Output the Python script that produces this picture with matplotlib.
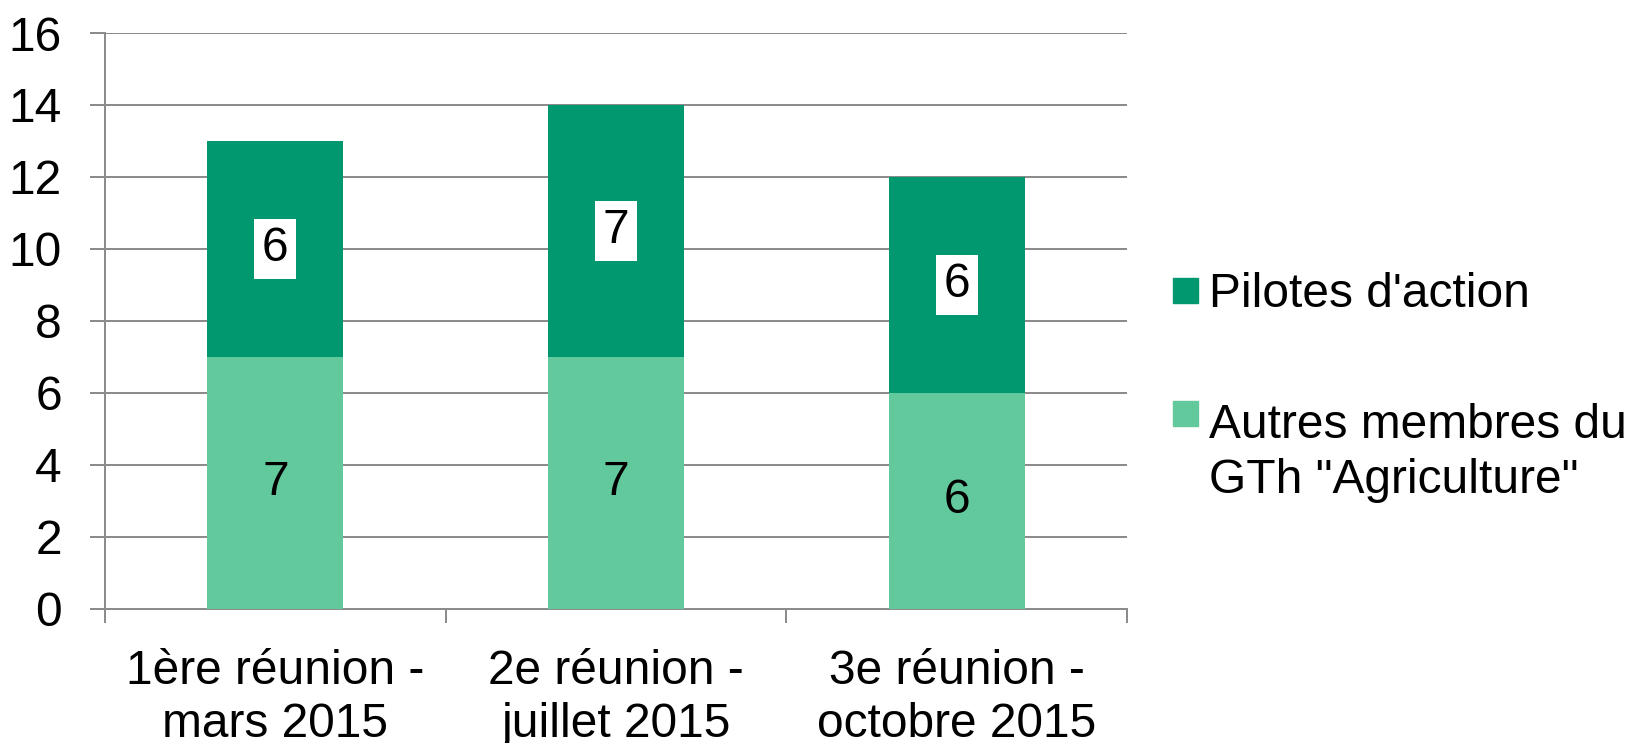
import matplotlib
matplotlib.use("Agg")
import matplotlib.pyplot as plt
from matplotlib.patches import Rectangle
import numpy as np

categories = ["1ère réunion -\nmars 2015", "2e réunion -\njuillet 2015", "3e réunion -\noctobre 2015"]
autres = [7, 7, 6]
pilotes = [6, 7, 6]
series_names = ["Pilotes d'action", "Autres membres du\nGTh \"Agriculture\""]
yticks = [0, 2, 4, 6, 8, 10, 12, 14, 16]

plt.rcParams['font.family'] = ['Liberation Sans', 'DejaVu Sans']
FS = 34.5
dark = '#02986F'
light = '#62C99D'
grid = '#8C8C8C'
PX = 72 / 100  # points per pixel

W, H = 1631, 743
fig = plt.figure(figsize=(W / 100, H / 100), dpi=100)
ax = fig.add_axes([105 / W, 1 - 608.7 / H, (1127 - 105) / W, (608.7 - 33) / H])

x = np.arange(len(categories)) + 0.5
bw = 0.4
ax.bar(x, autres, bw, color=light, zorder=3)
ax.bar(x, pilotes, bw, bottom=autres, color=dark, zorder=3)

for xi, a, p in zip(x, autres, pilotes):
    ax.text(xi, a / 2, str(a), ha='center', va='center', fontsize=FS, zorder=4)
    ax.text(xi, a + p / 2, str(p), ha='center', va='center', fontsize=FS, zorder=4,
            bbox=dict(boxstyle='square,pad=0.16', fc='white', ec='none'))

ax.set_xlim(0, len(categories))
ax.set_ylim(0, 16)
ax.set_yticks(yticks)
ax.set_yticklabels([str(v) for v in yticks], fontsize=FS)
ax.yaxis.grid(True, color=grid, linewidth=2 * PX, zorder=0)
ax.tick_params(axis='y', length=15 * PX, width=2 * PX, color=grid, pad=28 * PX)

ax.set_xticks(np.arange(len(categories) + 1))
ax.set_xticklabels([])
ax.set_xticks(x, minor=True)
ax.set_xticklabels(categories, minor=True, fontsize=FS, linespacing=1.24)
ax.tick_params(axis='x', which='major', length=14 * PX, width=2 * PX, color=grid)
ax.tick_params(axis='x', which='minor', length=0, pad=40 * PX)

for s in ['top', 'right']:
    ax.spines[s].set_visible(False)
for s in ['left', 'bottom']:
    ax.spines[s].set_color(grid)
    ax.spines[s].set_linewidth(2 * PX)

# legend
sq = 25
entries = [(290, [306.7], dark, series_names[0]), (413.5, [438, 493], light, series_names[1])]
for (yc, baselines, col, label) in entries:
    fig.patches.append(Rectangle((1173 / W, 1 - (yc + sq / 2) / H), sq / W, sq / H,
                                 transform=fig.transFigure, color=col))
    for line, bl in zip(label.split('\n'), baselines):
        fig.text(1209 / W, 1 - bl / H, line, fontsize=FS, ha='left', va='baseline')

fig.savefig('out.png', dpi=100)
